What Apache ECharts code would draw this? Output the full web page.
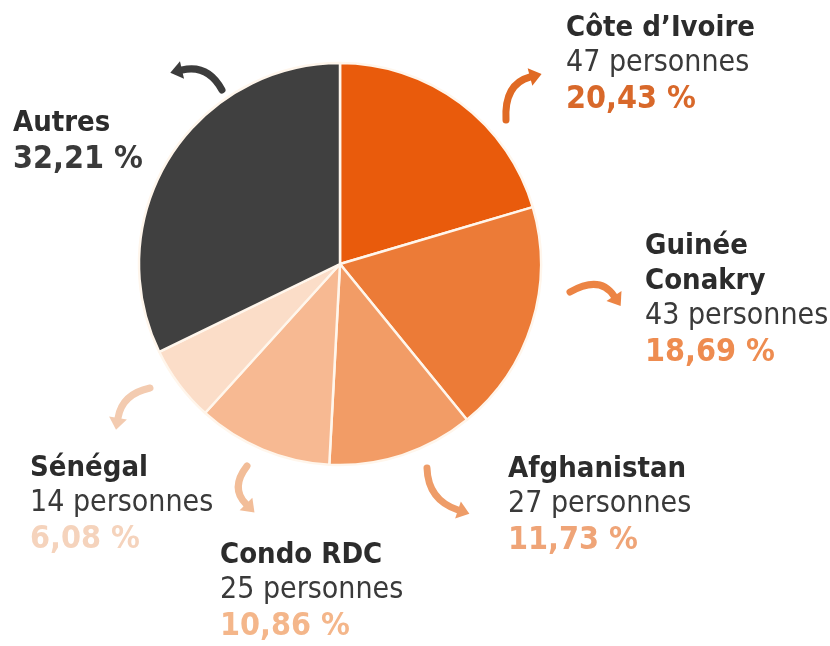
<!DOCTYPE html>
<html>
<head>
<meta charset="utf-8">
<script src="https://cdn.jsdelivr.net/npm/echarts@6/dist/echarts.min.js"></script>
<style>
  html, body { margin: 0; padding: 0; background: #fff; }
  #chart { width: 830px; height: 646px; }
</style>
</head>
<body>
<div id="chart"></div>
<script>
const countries = ['Côte d’Ivoire', 'Guinée\nConakry', 'Afghanistan', 'Condo RDC', 'Sénégal', 'Autres']
const persons = [47, 43, 27, 25, 14, null]
const shares = [20.43, 18.69, 11.73, 10.86, 6.08, 32.21]

const sliceColors = ['#E95B0C', '#EC7B37', '#F29C66', '#F7B992', '#FBDDC8', '#404040']
const pctColors = ['#D8682A', '#EE8C50', '#EFA477', '#F4B68A', '#F5D3BC', '#3A3A3A']
// top-left corner of each label block
const labelPos = [[566, 11], [645, 229], [508, 452], [220, 538], [30, 451], [13, 106]]

const font = "'DejaVu Sans Condensed', 'Liberation Sans Narrow', 'Roboto', sans-serif"

const chart = echarts.init(document.getElementById('chart'))

const fmtPct = (v) => v.toFixed(2).replace('.', ',') + ' %'

const arrow = (x1, y1, cx, cy, x2, y2, color) => {
  const dx = x2 - cx
  const dy = y2 - cy
  const len = Math.hypot(dx, dy)
  const ux = dx / len
  const uy = dy / len
  const nx = -uy
  const ny = ux
  return [
    {
      type: 'bezierCurve',
      shape: { x1, y1, x2, y2, cpx1: cx, cpy1: cy },
      style: { stroke: color, lineWidth: 7, fill: null, lineCap: 'round' }
    },
    {
      type: 'polygon',
      shape: {
        points: [
          [x2 + ux * 12, y2 + uy * 12],
          [x2 + nx * 9, y2 + ny * 9],
          [x2 - nx * 9, y2 - ny * 9]
        ]
      },
      style: { fill: color }
    }
  ]
}

const arrows = [
  ...arrow(506, 120, 504, 84, 530, 77, '#E06A24'),
  ...arrow(570, 292, 600, 275, 614, 296, '#EC8444'),
  ...arrow(427, 468, 428, 500, 458, 510, '#EE9C68'),
  ...arrow(247, 466, 230, 488, 246, 504, '#F2BD98'),
  ...arrow(150, 388, 122, 394, 118, 418, '#F3CBB0'),
  ...arrow(222, 90, 208, 64, 182, 70, '#3C3C3C')
]

chart.setOption({
  animation: false,
  graphic: arrows,
  series: [
    {
      type: 'pie',
      center: [340, 264],
      radius: 201,
      startAngle: 90,
      clockwise: true,
      silent: true,
      itemStyle: { borderColor: '#FFF6EC', borderWidth: 2.5 },
      labelLine: { show: false },
      label: {
        show: true,
        position: 'outside',
        overflow: 'none',
        fontFamily: font,
        lineHeight: 35,
        formatter: (p) => {
          const i = p.dataIndex
          const lines = countries[i].split('\n').map((s) => '{name|' + s + '}')
          if (persons[i] != null) lines.push('{count|' + persons[i] + ' personnes}')
          lines.push('{pct' + i + '|' + fmtPct(shares[i]) + '}')
          return lines.join('\n')
        },
        rich: Object.assign(
          {
            name: { fontFamily: font, fontSize: 29, fontWeight: 'bold', color: '#2C2C2C', lineHeight: 35 },
            count: { fontFamily: font, fontSize: 30, color: '#3A3A3A', lineHeight: 35 }
          },
          ...pctColors.map((c, i) => ({
            ['pct' + i]: { fontFamily: font, fontSize: 32, fontWeight: 'bold', color: c, lineHeight: 38 }
          }))
        )
      },
      labelLayout: (p) => ({
        x: labelPos[p.dataIndex][0],
        y: labelPos[p.dataIndex][1],
        align: 'left',
        verticalAlign: 'top'
      }),
      data: countries.map((c, i) => ({
        name: c,
        value: shares[i],
        itemStyle: { color: sliceColors[i] }
      }))
    }
  ]
})
</script>
</body>
</html>
